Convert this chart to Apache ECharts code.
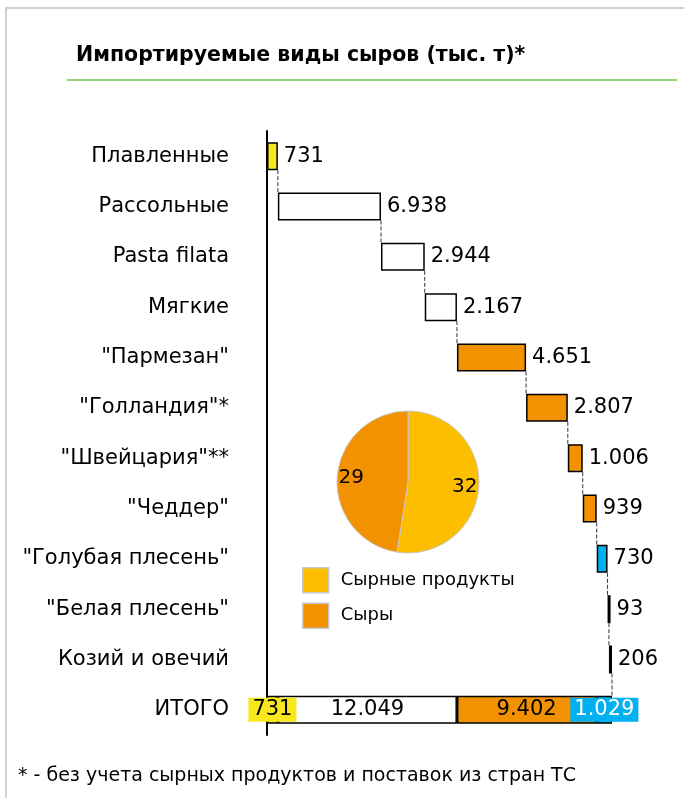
<!DOCTYPE html>
<html>
<head>
<meta charset="utf-8">
<script src="https://cdn.jsdelivr.net/npm/echarts@6/dist/echarts.min.js"></script>
<style>
    html, body { margin: 0; padding: 0; background: #fff; }
    #chart { width: 684px; height: 798px; }
</style>
</head>
<body>
<div id="chart"></div>
<script>
    var categories = ['Плавленные', 'Рассольные', 'Pasta filata', 'Мягкие', '"Пармезан"', '"Голландия"*',
        '"Швейцария"**', '"Чеддер"', '"Голубая плесень"', '"Белая плесень"', 'Козий и овечий', 'ИТОГО'];
    var stepValues = [731, 6938, 2944, 2167, 4651, 2807, 1006, 939, 730, 93, 206];
    var stepColors = ['#f8e71c', '#fff', '#fff', '#fff', '#f39200', '#f39200', '#f39200', '#f39200', '#00b0f0', '#000', '#00b0f0'];
    var totalParts = [731, 12049, 9402, 1029];
    var totalColors = ['#f8e71c', '#fff', '#f39200', '#00b0f0'];
    var pieNames = ['Сырные продукты', 'Сыры'];
    var pieValues = [32, 29];
    var pieColors = ['#fdbe00', '#f39200'];

    var FONT = 'DejaVu Sans';

    function fmt(n) {
        return String(n).replace(/\B(?=(\d{3})+(?!\d))/g, '.');
    }

    // offsets for the invisible base of every step
    var base = [], ends = [], sum = 0;
    for (var i = 0; i < stepValues.length; i++) {
        base.push(sum);
        sum += stepValues[i];
        ends.push(sum);
    }
    base.push('-');
    var total = sum;

    var connectors = [];
    for (var i = 0; i < stepValues.length; i++) {
        connectors.push([ends[i], i, i + 1]);
    }

    var barH = 28;

    var series = [
        {
            name: 'base',
            type: 'bar',
            stack: 'w',
            barWidth: barH,
            silent: true,
            itemStyle: { color: 'transparent' },
            data: base
        },
        {
            name: 'steps',
            type: 'bar',
            stack: 'w',
            barWidth: barH,
            barMinHeight: 3,
            data: stepValues.map(function (v, i) {
                return {
                    value: v,
                    itemStyle: { color: stepColors[i], borderColor: '#000', borderWidth: 1.5 }
                };
            }).concat(['-']),
            label: {
                show: true,
                position: 'right',
                distance: 6,
                fontFamily: FONT,
                fontSize: 21,
                color: '#000',
                formatter: function (p) { return fmt(p.value); }
            }
        }
    ];

    var partLabels = [
        { position: 'inside', backgroundColor: '#f8e71c', color: '#000', padding: [2, 4, 1, 4] },
        { position: 'inside', color: '#000' },
        { position: 'insideRight', distance: 40, color: '#000' },
        { position: 'inside', backgroundColor: '#00b0f0', color: '#fff', padding: [2, 4, 1, 4] }
    ];

    totalParts.forEach(function (v, k) {
        var d = [];
        for (var i = 0; i < stepValues.length; i++) d.push('-');
        d.push(v);
        var lb = partLabels[k];
        lb.show = true;
        lb.fontFamily = FONT;
        lb.fontSize = 21;
        lb.formatter = function (p) { return fmt(p.value); };
        series.push({
            name: 'total' + k,
            type: 'bar',
            stack: 'w',
            barWidth: barH,
            itemStyle: { color: totalColors[k], borderColor: '#000', borderWidth: 1.5 },
            label: lb,
            data: d
        });
    });

    series.push({
        name: 'connectors',
        type: 'custom',
        silent: true,
        z: 1,
        encode: { x: 0, y: 1 },
        data: connectors,
        renderItem: function (params, api) {
            var p1 = api.coord([api.value(0), api.value(1)]);
            var p2 = api.coord([api.value(0), api.value(2)]);
            return {
                type: 'line',
                shape: { x1: p1[0], y1: p1[1] + barH / 2, x2: p2[0], y2: p2[1] - barH / 2 },
                style: { stroke: '#333', lineWidth: 1, lineDash: [4, 2] }
            };
        }
    });

    series.push({
        name: 'pie',
        type: 'pie',
        center: [408, 482],
        radius: [0, 71],
        startAngle: 90,
        silent: true,
        label: { show: false },
        labelLine: { show: false },
        itemStyle: { borderColor: '#c8c8c8', borderWidth: 1 },
        data: pieNames.map(function (n, i) {
            return { name: n, value: pieValues[i], itemStyle: { color: pieColors[i] } };
        })
    });

    // same slices again, transparent, only to place the numbers further out
    series.push({
        name: 'pieLabels',
        type: 'pie',
        center: [408, 482],
        radius: [37, 71],
        startAngle: 90,
        silent: true,
        itemStyle: { color: 'transparent' },
        label: {
            show: true,
            position: 'inside',
            fontFamily: FONT,
            fontSize: 20,
            color: '#000',
            formatter: '{c}'
        },
        labelLine: { show: false },
        data: pieNames.map(function (n, i) {
            return { name: n, value: pieValues[i] };
        })
    });

    var option = {
        animation: false,
        title: {
            text: 'Импортируемые виды сыров (тыс. т)*',
            left: 71,
            top: 40,
            textStyle: { fontFamily: FONT, fontSize: 20.5, fontWeight: 'bold', color: '#000' }
        },
        legend: {
            data: pieNames,
            orient: 'vertical',
            left: 302,
            top: 567,
            padding: 0,
            icon: 'rect',
            itemWidth: 26,
            itemHeight: 25,
            itemGap: 9,
            selectedMode: false,
            itemStyle: { borderColor: '#c8c8c8', borderWidth: 1.5 },
            textStyle: { fontFamily: FONT, fontSize: 18, color: '#000', padding: [0, 0, 0, 7] }
        },
        grid: {
            left: 267,
            top: 131,
            width: 345,
            height: 604,
            containLabel: false
        },
        xAxis: {
            type: 'value',
            min: 0,
            max: total,
            show: false
        },
        yAxis: {
            type: 'category',
            inverse: true,
            data: categories,
            axisLine: { lineStyle: { color: '#000', width: 2 } },
            axisTick: { show: false },
            axisLabel: { margin: 38, fontFamily: FONT, fontSize: 21, color: '#000' }
        },
        graphic: [
            { type: 'line', shape: { x1: 5, y1: 8, x2: 684, y2: 8 }, style: { stroke: '#d0d0d0', lineWidth: 2 } },
            { type: 'line', shape: { x1: 6, y1: 8, x2: 6, y2: 798 }, style: { stroke: '#d0d0d0', lineWidth: 2 } },
            { type: 'line', shape: { x1: 67, y1: 80, x2: 677, y2: 80 }, style: { stroke: '#92d47c', lineWidth: 2 } },
            {
                type: 'text', left: 18, top: 767,
                style: { text: '* - без учета сырных продуктов и поставок из стран ТС', fontFamily: FONT, fontSize: 19, fill: '#000' }
            }
        ],
        series: series
    };

    var chart = echarts.init(document.getElementById('chart'));
    chart.setOption(option);
</script>
</body>
</html>
